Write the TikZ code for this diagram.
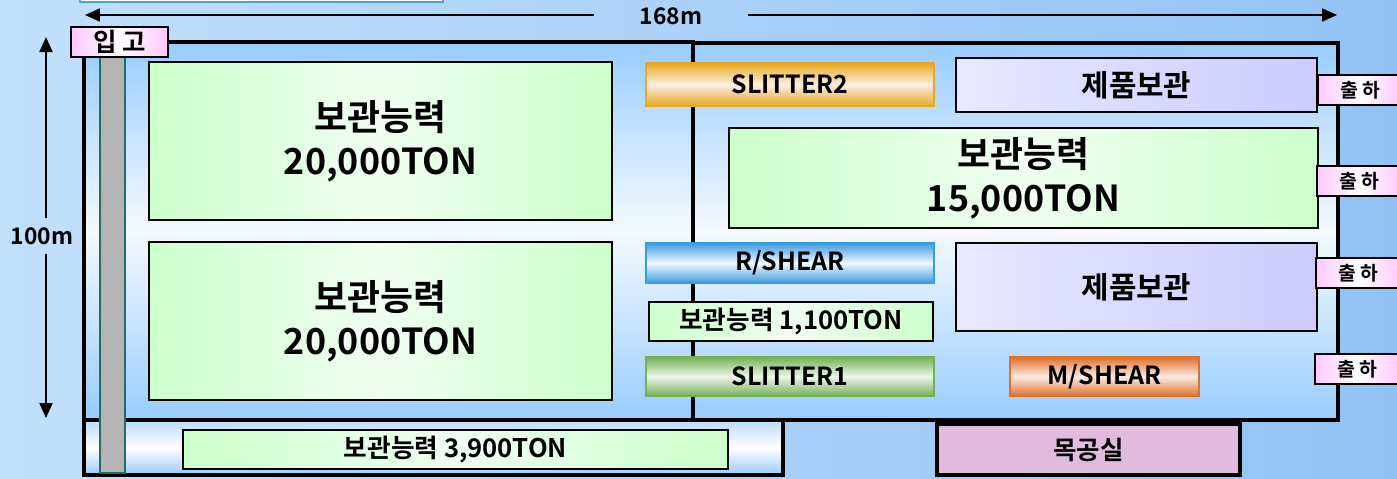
\documentclass[tikz,border=0pt]{standalone}
\usepackage{fontspec}
\setmainfont{Noto Sans CJK KR}[BoldFont={* Bold}]
\usepackage{tikz}
\usetikzlibrary{arrows.meta}
\usetikzlibrary{positioning,calc}
\definecolor{bgleft}{HTML}{C2E0FC}
\definecolor{bgright}{HTML}{92C2F4}
\definecolor{hallblue}{HTML}{99CCFF}
\definecolor{hallwhite}{HTML}{F4FAFF}
\definecolor{storegreen}{HTML}{CCFFCC}
\definecolor{storelight}{HTML}{F0FFF0}
\definecolor{prodlav}{HTML}{CCCCFF}
\definecolor{prodlight}{HTML}{E8E8FF}
\definecolor{tagpink}{HTML}{FFC8FF}
\definecolor{woodpink}{HTML}{E0BBDD}
\definecolor{slitorange}{HTML}{E6A820}
\definecolor{slitcream}{HTML}{FCEEE2}
\definecolor{shearblue}{HTML}{3A9BE0}
\definecolor{shearlight}{HTML}{F2F8FF}
\definecolor{slitgreen}{HTML}{72B255}
\definecolor{slitgreenl}{HTML}{EEF5EA}
\definecolor{mshearor}{HTML}{E07028}
\definecolor{mshearl}{HTML}{FBEAE6}
\definecolor{railgray}{HTML}{B4B4B4}
\definecolor{railteal}{HTML}{1E6E64}
\definecolor{topblue}{HTML}{4AA0E8}

\begin{document}
\begin{tikzpicture}[x=0.02cm,y=-0.02cm,
    wall/.style={draw=black,line width=2.6pt},
    storebox/.style={draw=black,line width=1.2pt,left color=storegreen,
      right color=storegreen,middle color=storelight,align=center},
    prodbox/.style={draw=black,line width=1.2pt,left color=prodlight,
      right color=prodlav,minimum width=7.22cm,
      font=\fontsize{17}{20}\selectfont\bfseries},
    machine/.style={line width=1.5pt,minimum height=0.8cm,
      font=\fontsize{14.2}{17}\selectfont\bfseries},
    tagbox/.style={draw=black,line width=1.2pt,left color=tagpink,
      right color=tagpink,middle color=white,minimum width=1.68cm,
      minimum height=0.6cm,inner sep=0pt,font=\fontsize{11}{12}\selectfont\bfseries},
    dimarrow/.style={line width=1.1pt,-{Triangle[length=0.3cm,width=0.26cm]}},
    bigtext/.style={font=\fontsize{20.4}{25}\selectfont\bfseries}]
  \useasboundingbox (0,0) rectangle (1397,478);
  % background
  \shade[left color=bgleft,right color=bgright] (0,0) rectangle (1397,478);
  \draw[topblue,line width=1pt,fill=white] (80,-5) rectangle (443,2);
  % buildings
  \shade[top color=hallblue,bottom color=hallblue,middle color=hallwhite]
    (84,42) rectangle (693,420);
  \shade[top color=hallblue,bottom color=hallblue,middle color=hallwhite]
    (693,43) rectangle (1338,420);
  \draw[wall] (84,42) rectangle (693,420);
  \draw[wall] (693,43) rectangle (1338,420);
  \shade[top color=hallblue!70,bottom color=hallblue,middle color=white]
    (84,420) rectangle (783,475);
  \draw[wall] (84,420) rectangle (783,475);
  % rail
  \draw[railteal,line width=0.8pt,fill=railgray] (100,57) rectangle (125,473);
  \node[tagbox,minimum width=1.94cm,font=\fontsize{14.5}{16}\selectfont\bfseries]
    (inlet) at (119.5,42) {입 고};
  % storage
  \node[storebox,bigtext,minimum width=9.26cm,minimum height=3.16cm]
    (storea) at (380.5,141) {보관능력\\20,000TON};
  \node[storebox,bigtext,minimum width=9.26cm,minimum height=3.16cm]
    (storeb) at (380.5,321) {보관능력\\20,000TON};
  \node[storebox,bigtext,minimum width=11.78cm,minimum height=2.0cm]
    (storec) at (1023.5,178) {보관능력\\15,000TON};
  \node[storebox,minimum width=5.68cm,minimum height=0.74cm,
    font=\fontsize{14.6}{16}\selectfont\bfseries] (stored) at (791,321.5) {보관능력 1,100TON};
  \node[storebox,minimum width=10.9cm,minimum height=0.62cm,
    font=\fontsize{14.6}{16}\selectfont\bfseries] (storee) at (455.5,449.5) {보관능력 3,900TON};
  % products
  \node[prodbox,minimum height=1.08cm] (proda) at (1136.5,85) {제품보관};
  \node[prodbox,minimum height=1.76cm] (prodb) at (1136.5,287) {제품보관};
  % machines
  \node[machine,draw=slitorange,top color=slitorange,bottom color=slitorange,
    middle color=slitcream,minimum width=5.76cm,minimum height=0.86cm]
    (slitb) at (790,84.5) {SLITTER2};
  \node[machine,draw=shearblue,top color=shearblue,bottom color=shearblue,
    middle color=shearlight,minimum width=5.76cm] (rshear) at (790,263) {R/SHEAR};
  \node[machine,draw=slitgreen,top color=slitgreen,bottom color=slitgreen,
    middle color=slitgreenl,minimum width=5.76cm,minimum height=0.78cm]
    (slita) at (790,376.5) {SLITTER1};
  \node[machine,draw=mshearor,top color=mshearor,bottom color=mshearor,
    middle color=mshearl,minimum width=3.78cm,minimum height=0.78cm]
    (mshear) at (1104.5,376.5) {M/SHEAR};
  % workshop
  \node[draw=black,line width=2.2pt,fill=woodpink,minimum width=6.06cm,
    minimum height=1.02cm,font=\fontsize{14.5}{17}\selectfont\bfseries]
    (wood) at (1088.5,449.5) {목공실};
  % shipping
  \node[tagbox] (shipa) at (1360,90) {출 하};
  \node[tagbox] (shipb) at (1359,181) {출 하};
  \node[tagbox] (shipc) at (1358,273) {출 하};
  \node[tagbox] (shipd) at (1357,369) {출 하};
  % dimensions
  \node[minimum width=3.06cm,inner sep=0pt,font=\fontsize{13}{15}\selectfont\bfseries]
    (width) at (671,16) {168m};
  \coordinate (wl) at (85,15);
  \coordinate (wr) at (1337,15);
  \draw[dimarrow] (width.west |- wl) -- (wl);
  \draw[dimarrow] (width.east |- wr) -- (wr);
  \node[minimum height=0.7cm,inner sep=0pt,font=\fontsize{13}{15}\selectfont\bfseries]
    (depth) at (42,236) {100m};
  \coordinate (dt) at (46,37);
  \coordinate (db) at (46,418);
  \draw[dimarrow] (depth.north -| dt) -- (dt);
  \draw[dimarrow] (depth.south -| db) -- (db);
\end{tikzpicture}
\end{document}
